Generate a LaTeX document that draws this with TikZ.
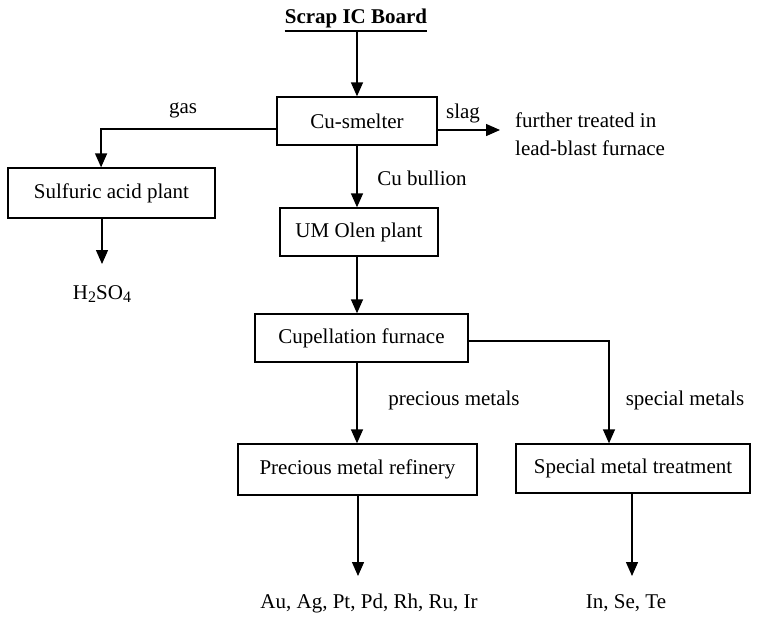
\documentclass[tikz,border=0pt]{standalone}
\usepackage{fontspec}
\setmainfont{Liberation Serif}
\usetikzlibrary{arrows.meta,calc}
\begin{document}
\begin{tikzpicture}[x=1pt,y=-1pt,
  box/.style={draw,line width=1.3pt,inner sep=0pt,minimum height=48pt,font=\fontsize{21}{26}\selectfont},
  lbl/.style={font=\fontsize{21}{28}\selectfont,inner sep=0pt},
  flow/.style={line width=1.4pt,-{Triangle[width=12pt,length=14pt]}}]
\useasboundingbox (0,0) rectangle (758,624);
\node[lbl,font=\fontsize{21}{26}\selectfont\bfseries] (scrap) at (356,18) {Scrap IC Board};
\draw[line width=1.8pt] ($(scrap.south west)+(0,3)$) coordinate (ul1) -- ($(scrap.south east)+(0,3)$) coordinate (ul2);
\node[box,minimum width=160pt] (smelter) at (357,121) {Cu-smelter};
\node[box,minimum width=207pt,minimum height=50pt] (sulf) at (111.5,193) {Sulfuric acid plant};
\node[box,minimum width=158pt] (olen) at (359,232) {UM Olen plant};
\node[box,minimum width=213pt] (cup) at (361.5,338) {Cupellation furnace};
\node[box,minimum width=239pt,minimum height=51pt] (prec) at (357.5,469.5) {Precious metal refinery};
\node[box,minimum width=234pt,minimum height=49pt] (spec) at (633,468.5) {Special metal treatment};
\node[lbl] (h2so4) at (102,294) {H\raisebox{-0.3ex}{\fontsize{16}{16}\selectfont 2}SO\raisebox{-0.3ex}{\fontsize{16}{16}\selectfont 4}};
\node[lbl] (au) at (369,603) {Au, Ag, Pt, Pd, Rh, Ru, Ir};
\node[lbl] (inse) at (626,603) {In, Se, Te};
\node[lbl,align=left,anchor=west] (further) at (515,134) {further treated in\\lead-blast furnace};
\node[lbl] (gaslbl) at (183,110) {gas};
\node[lbl] (slaglbl) at (463,113) {slag};
\node[lbl] (cubl) at (422,178) {Cu bullion};
\node[lbl] (pml) at (454,400) {precious metals};
\node[lbl] (sml) at (685,400) {special metals};
% connectors
\coordinate (scrapout) at (357,32);
\coordinate (slagend) at (500,130);
\coordinate (h2top) at (102,264);
\coordinate (auTop) at (358,576);
\coordinate (inTop) at (632,576);
\coordinate (spX) at (609,341);
\draw[flow] (scrapout) -- (scrapout |- smelter.north);
\draw[flow] ($(smelter.west)+(0,8)$) -| ($(sulf.north west)!0.45!(sulf.north east)$);
\draw[flow] ($(smelter.east)+(0,9)$) -- (slagend);
\draw[flow] (smelter.south) -- (smelter.south |- olen.north);
\draw[flow] (sulf.south -| h2top) -- (h2top);
\draw[flow] (olen.south -| smelter.south) -- (smelter.south |- cup.north);
\draw[flow] (cup.south -| smelter.south) -- (smelter.south |- prec.north);
\draw[flow] ($(cup.east)+(0,3)$) -- (spX) -- (spX |- spec.north);
\draw[flow] (prec.south -| auTop) -- (auTop);
\draw[flow] (spec.south -| inTop) -- (inTop);
\end{tikzpicture}
\end{document}
